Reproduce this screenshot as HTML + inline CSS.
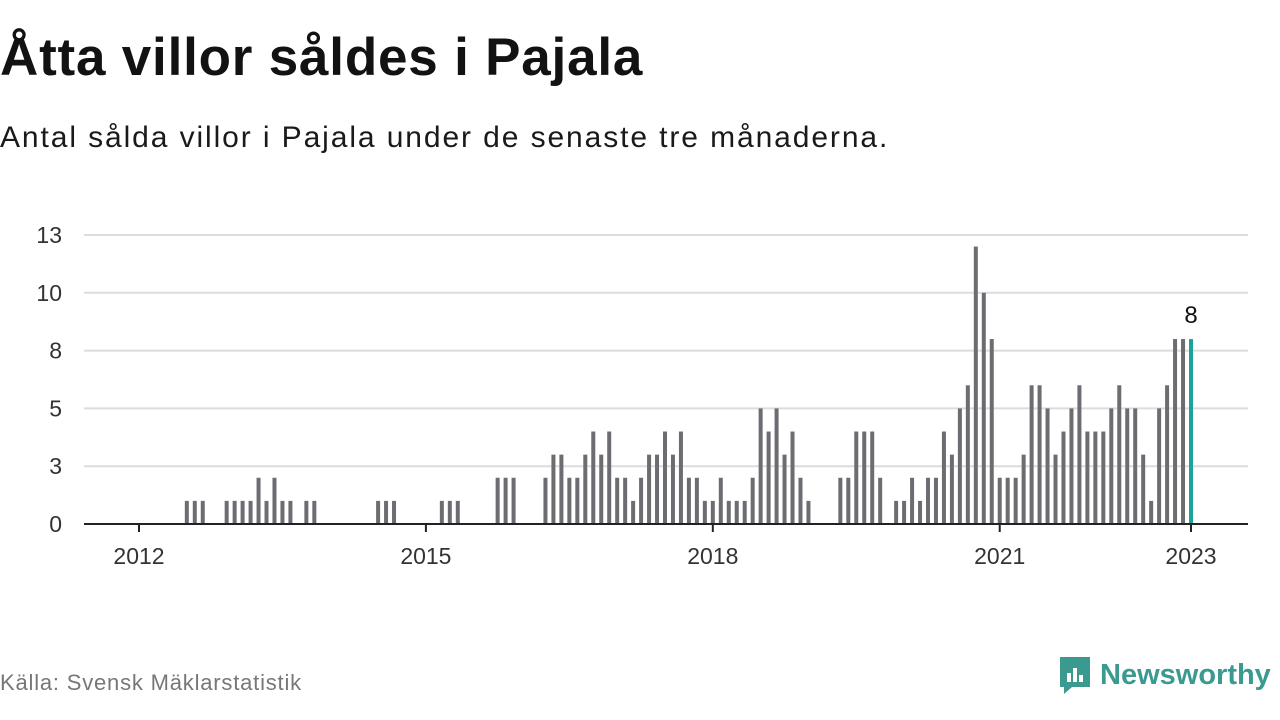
<!DOCTYPE html>
<html><head><meta charset="utf-8">
<style>
body{margin:0;width:1280px;height:720px;background:#fff;font-family:"Liberation Sans",sans-serif;overflow:hidden;position:relative;color:#121212}
h1{position:absolute;left:0;top:27px;margin:0;font-size:53px;font-weight:bold;letter-spacing:0.8px}
.sub{position:absolute;left:0;top:121px;font-size:30px;letter-spacing:1.9px;color:#1a1a1a}
.src{position:absolute;left:0;top:670px;font-size:22px;letter-spacing:0.8px;color:#777}
.logo{position:absolute;left:1058px;top:655px;display:flex;align-items:center}
.logo span{font-size:29px;font-weight:bold;color:#3a9a90;margin-left:8px}
svg{position:absolute;left:0;top:0}
</style></head><body>
<h1>Åtta villor såldes i Pajala</h1>
<div class="sub">Antal sålda villor i Pajala under de senaste tre månaderna.</div>
<svg id="chart" width="1280" height="720"></svg>
<div class="src">Källa: Svensk Mäklarstatistik</div>
<div class="logo">
<svg width="34" height="40" viewBox="0 0 34 40" style="position:static"><path d="M2 2h30v30H14l-8 7v-7H2z" fill="#3a9a90"/><rect x="9" y="18" width="4" height="9" fill="#fff"/><rect x="15" y="13" width="4" height="14" fill="#fff"/><rect x="21" y="20" width="4" height="7" fill="#fff"/></svg>
<span>Newsworthy</span></div>
<script>
const values=[0,0,0,0,0,0,1,1,1,0,0,1,1,1,1,2,1,2,1,1,0,1,1,0,0,0,0,0,0,0,1,1,1,0,0,0,0,0,1,1,1,0,0,0,0,2,2,2,0,0,0,
2,3,3,2,2,3,4,3,4,2,2,1,2,3,3,4,3,4,2,2,1,1,2,1,1,1,2,5,4,5,3,4,2,1,
0,0,0,2,2,4,4,4,2,0,
1,1,2,1,2,2,4,3,5,6,12,10,8,2,2,2,3,6,6,5,3,4,5,6,4,4,4,5,6,5,5,3,1,5,6,8,8,8];
const yTicks=[0,2.5,5,7.5,10,12.5];
const yLabels=["0","3","5","8","10","13"];
const xYears=[2012,2015,2018,2021,2023];
const svg=document.getElementById('chart');
const NS='http://www.w3.org/2000/svg';
const x0=139,pxMonth=(1191-139)/132;
const xm=i=>x0+i*pxMonth;
const y=v=>524-v*23.12;
function el(t,a){const e=document.createElementNS(NS,t);for(const k in a)e.setAttribute(k,a[k]);svg.appendChild(e);return e;}
yTicks.forEach((t,i)=>{
 const g=el('line',{x1:84,x2:1248,y1:y(t),y2:y(t),stroke:'#dcdcdc','stroke-width':2});
 
 
 const tx=el('text',{x:62,y:y(t)+8,'text-anchor':'end','font-size':23,fill:'#333','font-family':'Liberation Sans,sans-serif'});
 tx.textContent=yLabels[i];
 
 
});
values.forEach((v,i)=>{
 if(!v)return;
 const last=i===values.length-1;
 const r=el('rect',{x:xm(i)-2,y:y(v),width:4,height:524-y(v),fill:last?'#1aa39a':'#6c6c72'});
 
 
});
const li=values.length-1;
const lab=el('text',{x:xm(li),y:y(values[li])-16,'text-anchor':'middle','font-size':24,fill:'#111','font-family':'Liberation Sans,sans-serif'});
lab.textContent=String(values[li]);


const ax=el('line',{x1:84,x2:1248,y1:524,y2:524,stroke:'#222','stroke-width':2});


xYears.forEach(yr=>{
 const xx=xm((yr-2012)*12);
 const tk=el('line',{x1:xx,x2:xx,y1:524,y2:532,stroke:'#222','stroke-width':2});
 
 
 const t=el('text',{x:xx,y:564,'text-anchor':'middle','font-size':23,fill:'#333','font-family':'Liberation Sans,sans-serif'});
 t.textContent=yr;
 
 
});
</script>
</body></html>
